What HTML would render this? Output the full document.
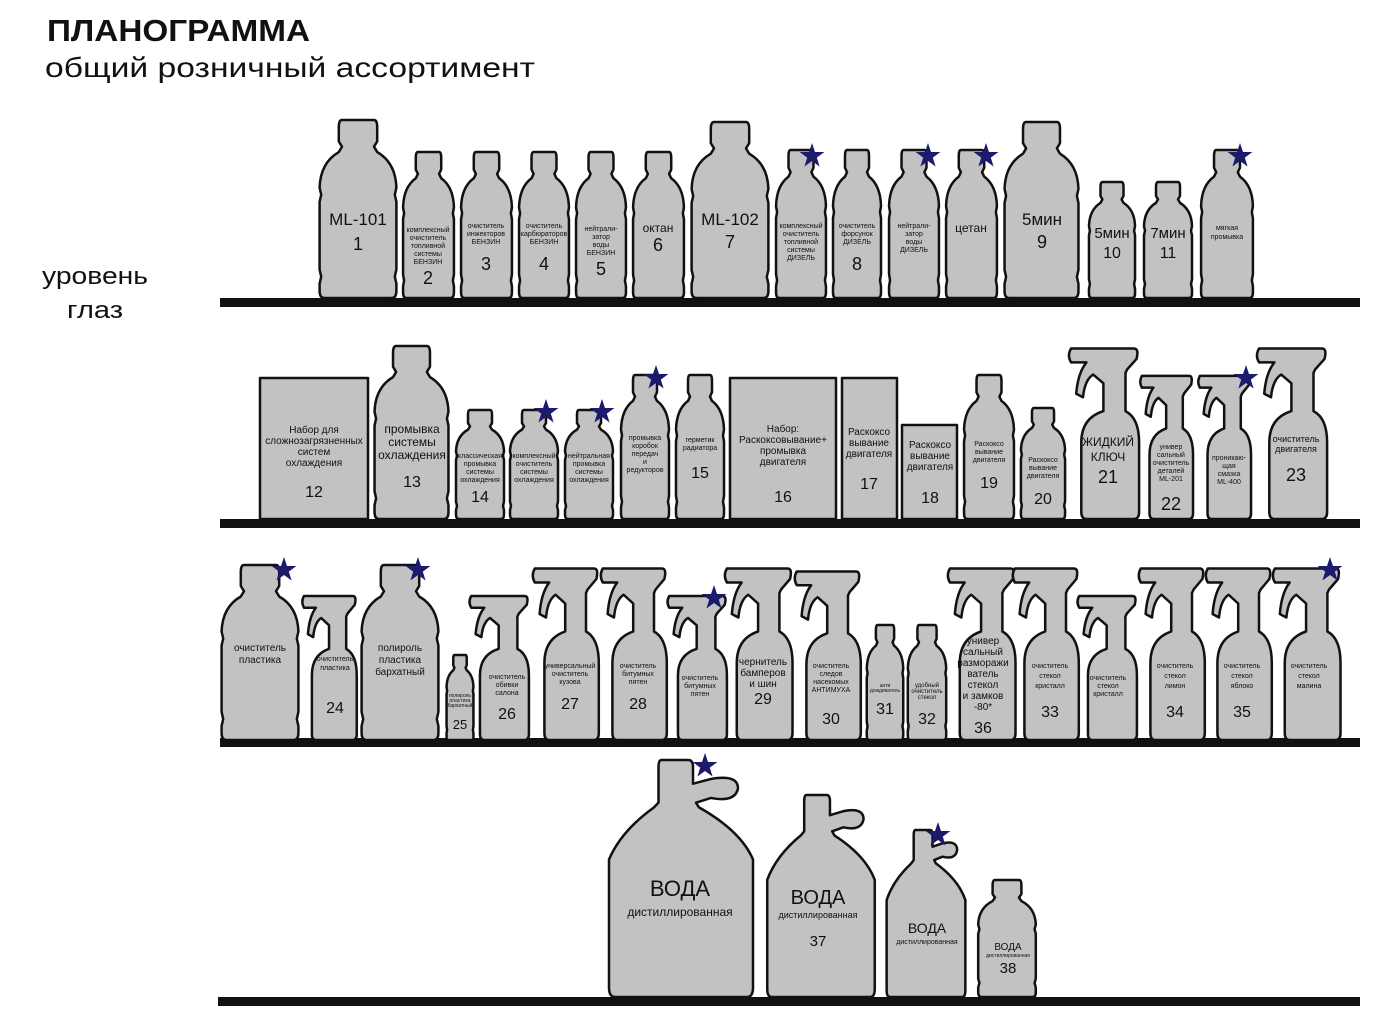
<!DOCTYPE html>
<html><head><meta charset="utf-8"><style>
html,body{margin:0;padding:0;background:#fff;width:1400px;height:1032px;overflow:hidden}
svg{display:block;font-family:"Liberation Sans",Arial,sans-serif}
.s{fill:#c2c2c2;stroke:#111;stroke-width:2.5;vector-effect:non-scaling-stroke;stroke-linejoin:round}
text{fill:#111;text-anchor:middle}
.L{font-size:17px}.N{font-size:18px}.sm{font-size:7px}.md{font-size:10px}.mm{font-size:12px}
.st{fill:#1c1a6b}
</style></head><body>
<svg width="1400" height="1032" viewBox="0 0 1400 1032" xmlns="http://www.w3.org/2000/svg">
<defs>
<path id="b" class="s" d="M30,0 L70,0 Q74,0 74,4 L74,12 L70,15 L74,18 Q97,24 98,38 L96,42 L98,46 L98,84 L96,88 L98,92 L98,96 Q98,100 92,100 L8,100 Q2,100 2,96 L2,92 L4,88 L2,84 L2,46 L4,42 L2,38 Q3,24 26,18 L30,15 L26,12 L26,4 Q26,0 30,0Z"/>
<path id="p" class="s" d="M6,2 L80,2 Q86,2 83,8 L72,14 L70,16 L70,38 Q86,42 86,56 L86,96 Q86,100 80,100 L24,100 Q18,100 18,96 L18,56 Q18,42 44,38 L44,22 L32,17 Q22,20 20,30 L12,28 Q14,16 24,10 L6,10 Q1,6 6,2Z"/>
<path id="j" class="s" d="M37,0 L55,0 Q58,0 58,3 L58,10 L70,8 Q88,6 88,12 Q86,18 70,16 L60,18 L62,20 Q90,30 98,42 L98,96 Q98,100 94,100 L6,100 Q2,100 2,96 L2,42 Q10,30 32,20 L35,18 L35,3 Q35,0 37,0Z"/>
<polygon id="star" class="st" points="0,-13 3,-4 12.4,-4 4.8,1.6 7.6,10.5 0,5 -7.6,10.5 -4.8,1.6 -12.4,-4 -3,-4"/>
</defs>
<text x="47" y="41" textLength="263" lengthAdjust="spacingAndGlyphs" style="text-anchor:start;font-size:31px;font-weight:bold">ПЛАНОГРАММА</text>
<text x="45" y="77" textLength="490" lengthAdjust="spacingAndGlyphs" style="text-anchor:start;font-size:28px">общий розничный ассортимент</text>
<text x="42" y="284" textLength="106" lengthAdjust="spacingAndGlyphs" style="text-anchor:start;font-size:24px">уровень</text>
<text x="67" y="318" textLength="56" lengthAdjust="spacingAndGlyphs" style="text-anchor:start;font-size:24px">глаз</text>
<!-- shelves -->
<rect x="220" y="298" width="1140" height="9" fill="#111"/>
<rect x="220" y="519" width="1140" height="9" fill="#111"/>
<rect x="220" y="738" width="1140" height="9" fill="#111"/>
<rect x="218" y="997" width="1142" height="9" fill="#111"/>

<!-- shelf 1 -->
<use href="#b" transform="translate(318,120) scale(.8,1.78)"/>
<use href="#b" transform="translate(402,152) scale(.53,1.46)"/>
<use href="#b" transform="translate(460,152) scale(.53,1.46)"/>
<use href="#b" transform="translate(518,152) scale(.52,1.46)"/>
<use href="#b" transform="translate(575,152) scale(.52,1.46)"/>
<use href="#b" transform="translate(632,152) scale(.53,1.46)"/>
<use href="#b" transform="translate(690,122) scale(.8,1.76)"/>
<use href="#b" transform="translate(775,150) scale(.52,1.48)"/>
<use href="#b" transform="translate(832,150) scale(.5,1.48)"/>
<use href="#b" transform="translate(888,150) scale(.52,1.48)"/>
<use href="#b" transform="translate(945,150) scale(.53,1.48)"/>
<use href="#b" transform="translate(1003,122) scale(.77,1.76)"/>
<use href="#b" transform="translate(1088,182) scale(.48,1.16)"/>
<use href="#b" transform="translate(1143,182) scale(.5,1.16)"/>
<use href="#b" transform="translate(1200,150) scale(.54,1.48)"/>
<text class="L" x="358" y="225">ML-101</text><text class="N" x="358" y="250">1</text>
<text class="sm" x="428" y="232">комплексный<tspan x="428" dy="8">очиститель</tspan><tspan x="428" dy="8">топливной</tspan><tspan x="428" dy="8">системы</tspan><tspan x="428" dy="8">БЕНЗИН</tspan></text><text class="N" x="428" y="284">2</text>
<text class="sm" x="486" y="228">очиститель<tspan x="486" dy="8">инжекторов</tspan><tspan x="486" dy="8">БЕНЗИН</tspan></text><text class="N" x="486" y="270">3</text>
<text class="sm" x="544" y="228">очиститель<tspan x="544" dy="8">карбюраторов</tspan><tspan x="544" dy="8">БЕНЗИН</tspan></text><text class="N" x="544" y="270">4</text>
<text class="sm" x="601" y="231">нейтрали-<tspan x="601" dy="8">затор</tspan><tspan x="601" dy="8">воды</tspan><tspan x="601" dy="8">БЕНЗИН</tspan></text><text class="N" x="601" y="275">5</text>
<text class="mm" x="658" y="232">октан</text><text class="N" x="658" y="251">6</text>
<text class="L" x="730" y="225">ML-102</text><text class="N" x="730" y="248">7</text>
<text class="sm" x="801" y="228">комплексный<tspan x="801" dy="8">очиститель</tspan><tspan x="801" dy="8">топливной</tspan><tspan x="801" dy="8">системы</tspan><tspan x="801" dy="8">ДИЗЕЛЬ</tspan></text>
<text class="sm" x="857" y="228">очиститель<tspan x="857" dy="8">форсунок</tspan><tspan x="857" dy="8">ДИЗЕЛЬ</tspan></text><text class="N" x="857" y="270">8</text>
<text class="sm" x="914" y="228">нейтрали-<tspan x="914" dy="8">затор</tspan><tspan x="914" dy="8">воды</tspan><tspan x="914" dy="8">ДИЗЕЛЬ</tspan></text>
<text class="mm" x="971" y="232">цетан</text>
<text class="L" x="1042" y="225">5мин</text><text class="N" x="1042" y="248">9</text>
<text class="L" x="1112" y="238" style="font-size:15px">5мин</text><text class="N" x="1112" y="258" style="font-size:16px">10</text>
<text class="L" x="1168" y="238" style="font-size:15px">7мин</text><text class="N" x="1168" y="258" style="font-size:16px">11</text>
<text class="sm" x="1227" y="230">мягкая<tspan x="1227" dy="9">промывка</tspan></text>
<use href="#star" x="812" y="156"/><use href="#star" x="928" y="156"/><use href="#star" x="986" y="156"/><use href="#star" x="1240" y="156"/>

<!-- shelf 2 -->
<rect class="s" x="260" y="378" width="108" height="141"/>
<use href="#b" transform="translate(373,346) scale(.77,1.73)"/>
<use href="#b" transform="translate(455,410) scale(.5,1.09)"/>
<use href="#b" transform="translate(509,410) scale(.5,1.09)"/>
<use href="#b" transform="translate(564,410) scale(.5,1.09)"/>
<use href="#b" transform="translate(620,375) scale(.5,1.44)"/>
<use href="#b" transform="translate(675,375) scale(.5,1.44)"/>
<rect class="s" x="730" y="378" width="106" height="141"/>
<rect class="s" x="842" y="378" width="55" height="141"/>
<rect class="s" x="902" y="425" width="55" height="94"/>
<use href="#b" transform="translate(963,375) scale(.52,1.44)"/>
<use href="#b" transform="translate(1020,408) scale(.46,1.11)"/>
<use href="#p" transform="translate(1066,345) scale(.85,1.74)"/>
<use href="#p" transform="translate(1138,373) scale(.64,1.46)"/>
<use href="#p" transform="translate(1196,373) scale(.64,1.46)"/>
<use href="#p" transform="translate(1254,345) scale(.85,1.74)"/>
<text class="md" x="314" y="433">Набор для<tspan x="314" dy="11">сложнозагрязненных</tspan><tspan x="314" dy="11">систем</tspan><tspan x="314" dy="11">охлаждения</tspan></text><text class="N" x="314" y="497" style="font-size:16px">12</text>
<text class="mm" x="412" y="433">промывка<tspan x="412" dy="13">системы</tspan><tspan x="412" dy="13">охлаждения</tspan></text><text class="N" x="412" y="487" style="font-size:16px">13</text>
<text class="sm" x="480" y="458">классическая<tspan x="480" dy="8">промывка</tspan><tspan x="480" dy="8">системы</tspan><tspan x="480" dy="8">охлаждения</tspan></text><text class="N" x="480" y="502" style="font-size:16px">14</text>
<text class="sm" x="534" y="458">комплексный<tspan x="534" dy="8">очиститель</tspan><tspan x="534" dy="8">системы</tspan><tspan x="534" dy="8">охлаждения</tspan></text>
<text class="sm" x="589" y="458">нейтральная<tspan x="589" dy="8">промывка</tspan><tspan x="589" dy="8">системы</tspan><tspan x="589" dy="8">охлаждения</tspan></text>
<text class="sm" x="645" y="440">промывка<tspan x="645" dy="8">коробок</tspan><tspan x="645" dy="8">передач</tspan><tspan x="645" dy="8">и</tspan><tspan x="645" dy="8">редукторов</tspan></text>
<text class="sm" x="700" y="442">герметик<tspan x="700" dy="8">радиатора</tspan></text><text class="N" x="700" y="478" style="font-size:16px">15</text>
<text class="md" x="783" y="432">Набор:<tspan x="783" dy="11">Раскоксовывание+</tspan><tspan x="783" dy="11">промывка</tspan><tspan x="783" dy="11">двигателя</tspan></text><text class="N" x="783" y="502" style="font-size:16px">16</text>
<text class="md" x="869" y="435">Раскоксо<tspan x="869" dy="11">вывание</tspan><tspan x="869" dy="11">двигателя</tspan></text><text class="N" x="869" y="489" style="font-size:16px">17</text>
<text class="md" x="930" y="448">Раскоксо<tspan x="930" dy="11">вывание</tspan><tspan x="930" dy="11">двигателя</tspan></text><text class="N" x="930" y="503" style="font-size:16px">18</text>
<text class="sm" x="989" y="446">Раскоксо<tspan x="989" dy="8">вывание</tspan><tspan x="989" dy="8">двигателя</tspan></text><text class="N" x="989" y="488" style="font-size:16px">19</text>
<text class="sm" x="1043" y="462">Раскоксо<tspan x="1043" dy="8">вывание</tspan><tspan x="1043" dy="8">двигателя</tspan></text><text class="N" x="1043" y="504" style="font-size:16px">20</text>
<text class="mm" x="1108" y="446">ЖИДКИЙ<tspan x="1108" dy="15">КЛЮЧ</tspan></text><text class="N" x="1108" y="483">21</text>
<text class="sm" x="1171" y="449">универ<tspan x="1171" dy="8">сальный</tspan><tspan x="1171" dy="8">очиститель</tspan><tspan x="1171" dy="8">деталей</tspan><tspan x="1171" dy="8">ML-201</tspan></text><text class="N" x="1171" y="510">22</text>
<text class="sm" x="1229" y="460">проникаю-<tspan x="1229" dy="8">щая</tspan><tspan x="1229" dy="8">смазка</tspan><tspan x="1229" dy="8">ML-400</tspan></text>
<text class="sm" x="1296" y="442" style="font-size:9px">очиститель<tspan x="1296" dy="10">двигателя</tspan></text><text class="N" x="1296" y="481">23</text>
<use href="#star" x="546" y="412"/><use href="#star" x="602" y="412"/><use href="#star" x="656" y="378"/><use href="#star" x="1246" y="378"/>

<!-- shelf 3 -->
<use href="#b" transform="translate(220,565) scale(.8,1.75)"/>
<use href="#p" transform="translate(300,593) scale(.66,1.47)"/>
<use href="#b" transform="translate(360,565) scale(.8,1.75)"/>
<use href="#b" transform="translate(446,655) scale(.28,.85)"/>
<use href="#p" transform="translate(467,593) scale(.72,1.47)"/>
<use href="#p" transform="translate(530,565) scale(.8,1.75)"/>
<use href="#p" transform="translate(598,565) scale(.8,1.75)"/>
<use href="#p" transform="translate(665,593) scale(.72,1.47)"/>
<use href="#p" transform="translate(722,565) scale(.82,1.75)"/>
<use href="#p" transform="translate(792,568) scale(.8,1.72)"/>
<use href="#b" transform="translate(866,625) scale(.38,1.15)"/>
<use href="#b" transform="translate(907,625) scale(.4,1.15)"/>
<use href="#p" transform="translate(945,565) scale(.82,1.75)"/>
<use href="#p" transform="translate(1010,565) scale(.8,1.75)"/>
<use href="#p" transform="translate(1075,593) scale(.72,1.47)"/>
<use href="#p" transform="translate(1136,565) scale(.8,1.75)"/>
<use href="#p" transform="translate(1203,565) scale(.8,1.75)"/>
<use href="#p" transform="translate(1270,565) scale(.82,1.75)"/>
<text class="md" x="260" y="651">очиститель<tspan x="260" dy="12">пластика</tspan></text>
<text class="sm" x="335" y="661">очиститель<tspan x="335" dy="9">пластика</tspan></text><text class="N" x="335" y="713" style="font-size:16px">24</text>
<text class="md" x="400" y="651">полироль<tspan x="400" dy="12">пластика</tspan><tspan x="400" dy="12">бархатный</tspan></text>
<text class="sm" x="460" y="697" style="font-size:5px">полироль<tspan x="460" dy="5">пластика</tspan><tspan x="460" dy="5">бархатный</tspan></text><text class="N" x="460" y="729" style="font-size:13px">25</text>
<text class="sm" x="507" y="679">очиститель<tspan x="507" dy="8">обивки</tspan><tspan x="507" dy="8">салона</tspan></text><text class="N" x="507" y="719" style="font-size:16px">26</text>
<text class="sm" x="570" y="668">универсальный<tspan x="570" dy="8">очиститель</tspan><tspan x="570" dy="8">кузова</tspan></text><text class="N" x="570" y="709" style="font-size:16px">27</text>
<text class="sm" x="638" y="668">очиститель<tspan x="638" dy="8">битумных</tspan><tspan x="638" dy="8">пятен</tspan></text><text class="N" x="638" y="709" style="font-size:16px">28</text>
<text class="sm" x="700" y="680">очиститель<tspan x="700" dy="8">битумных</tspan><tspan x="700" dy="8">пятен</tspan></text>
<text class="md" x="763" y="665">чернитель<tspan x="763" dy="11">бамперов</tspan><tspan x="763" dy="11">и шин</tspan></text><text class="N" x="763" y="704" style="font-size:16px">29</text>
<text class="sm" x="831" y="668">очиститель<tspan x="831" dy="8">следов</tspan><tspan x="831" dy="8">насекомых</tspan><tspan x="831" dy="8">АНТИМУХА</tspan></text><text class="N" x="831" y="724" style="font-size:16px">30</text>
<text class="sm" x="885" y="687" style="font-size:5px">анти<tspan x="885" dy="5">дождеватель</tspan></text><text class="N" x="885" y="714" style="font-size:16px">31</text>
<text class="sm" x="927" y="687" style="font-size:6px">удобный<tspan x="927" dy="6">очиститель</tspan><tspan x="927" dy="6">стекол</tspan></text><text class="N" x="927" y="724" style="font-size:16px">32</text>
<text class="md" x="983" y="644">универ<tspan x="983" dy="11">сальный</tspan><tspan x="983" dy="11">разморажи</tspan><tspan x="983" dy="11">ватель</tspan><tspan x="983" dy="11">стекол</tspan><tspan x="983" dy="11">и замков</tspan><tspan x="983" dy="11">-80*</tspan></text><text class="N" x="983" y="733" style="font-size:16px">36</text>
<text class="sm" x="1050" y="668">очиститель<tspan x="1050" dy="10">стекол</tspan><tspan x="1050" dy="10">кристалл</tspan></text><text class="N" x="1050" y="717" style="font-size:16px">33</text>
<text class="sm" x="1108" y="680">очиститель<tspan x="1108" dy="8">стекол</tspan><tspan x="1108" dy="8">кристалл</tspan></text>
<text class="sm" x="1175" y="668">очиститель<tspan x="1175" dy="10">стекол</tspan><tspan x="1175" dy="10">лимон</tspan></text><text class="N" x="1175" y="717" style="font-size:16px">34</text>
<text class="sm" x="1242" y="668">очиститель<tspan x="1242" dy="10">стекол</tspan><tspan x="1242" dy="10">яблоко</tspan></text><text class="N" x="1242" y="717" style="font-size:16px">35</text>
<text class="sm" x="1309" y="668">очиститель<tspan x="1309" dy="10">стекол</tspan><tspan x="1309" dy="10">малина</tspan></text>
<use href="#star" x="284" y="570"/><use href="#star" x="418" y="570"/><use href="#star" x="714" y="598"/><use href="#star" x="1330" y="570"/>

<!-- shelf 4 -->
<use href="#j" transform="translate(606,760) scale(1.5,2.37)"/>
<use href="#j" transform="translate(765,795) scale(1.12,2.02)"/>
<use href="#j" transform="translate(885,830) scale(.82,1.67)"/>
<use href="#b" transform="translate(977,880) scale(.6,1.17)"/>
<text x="680" y="896" style="font-size:22px">ВОДА</text><text x="680" y="916" style="font-size:12px">дистиллированная</text>
<text x="818" y="904" style="font-size:20px">ВОДА</text><text x="818" y="918" style="font-size:9px">дистиллированная</text><text class="N" x="818" y="946" style="font-size:15px">37</text>
<text x="927" y="933" style="font-size:14px">ВОДА</text><text x="927" y="944" style="font-size:7px">дистиллированная</text>
<text x="1008" y="950" style="font-size:10px">ВОДА</text><text x="1008" y="957" style="font-size:5px">дистиллированная</text><text class="N" x="1008" y="973" style="font-size:15px">38</text>
<use href="#star" x="705" y="766"/><use href="#star" x="938" y="835"/>
</svg>
</body></html>
